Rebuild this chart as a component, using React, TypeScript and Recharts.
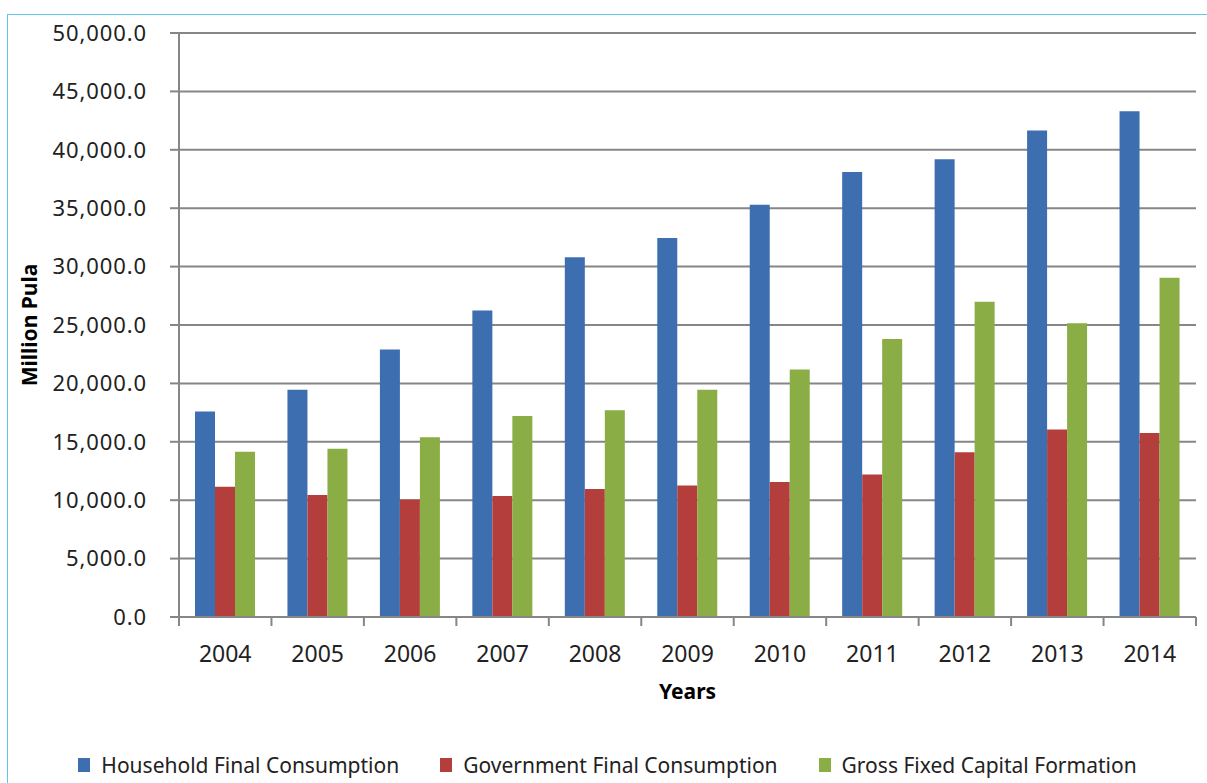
import React from 'react';
import { BarChart, Bar, XAxis, YAxis, CartesianGrid, Legend, Label } from 'recharts';

const years = ['2004', '2005', '2006', '2007', '2008', '2009', '2010', '2011', '2012', '2013', '2014'];
const household = [17600, 19450, 22900, 26250, 30800, 32450, 35300, 38100, 39200, 41650, 43300];
const government = [11150, 10450, 10050, 10350, 10950, 11250, 11550, 12200, 14100, 16050, 15750];
const grossFixed = [14150, 14400, 15400, 17200, 17700, 19450, 21200, 23800, 27000, 25150, 29050];
const seriesNames = ['Household Final Consumption', 'Government Final Consumption', 'Gross Fixed Capital Formation'];
const yTicks = [0, 5000, 10000, 15000, 20000, 25000, 30000, 35000, 40000, 45000, 50000];

const chartData = years.map((year, i) => ({
  year,
  household: household[i],
  government: government[i],
  grossFixed: grossFixed[i],
}));

const FONT = '"Noto Sans", sans-serif';
const AXIS = '#868686';
const PLOT_LEFT = 179;
const PLOT_RIGHT = 1196;
const BAND = (PLOT_RIGHT - PLOT_LEFT) / years.length;

const formatTick = (v: number) =>
  v.toLocaleString('en-US', { minimumFractionDigits: 1, maximumFractionDigits: 1 });

function YearTick(props: any) {
  const { x, y, payload, index } = props;
  const left = x - BAND / 2;
  return (
    <g>
      <line x1={left} y1={y} x2={left} y2={y + 9} stroke={AXIS} strokeWidth={2} />
      {index === years.length - 1 && (
        <line x1={x + BAND / 2} y1={y} x2={x + BAND / 2} y2={y + 9} stroke={AXIS} strokeWidth={2} />
      )}
      <text x={x} y={y + 36} textAnchor="middle" dominantBaseline="central" fontSize={23} fontFamily={FONT} fill="#222">
        {payload.value}
      </text>
    </g>
  );
}

function LegendContent({ payload }: any) {
  const items = [...(payload || [])].sort(
    (a: any, b: any) => seriesNames.indexOf(a.value) - seriesNames.indexOf(b.value)
  );
  return (
    <div style={{ display: 'flex', justifyContent: 'center', alignItems: 'center', height: 36, paddingLeft: 19 }}>
      {items.map((entry: any, i: number) => (
        <div key={i} style={{ display: 'flex', alignItems: 'center', marginRight: i < 2 ? 41 : 0 }}>
          <span style={{ display: 'inline-block', width: 12, height: 14, background: entry.color, marginRight: 11 }} />
          <span style={{ fontFamily: FONT, fontSize: 21, color: '#222' }}>{entry.value}</span>
        </div>
      ))}
    </div>
  );
}

export default function App() {
  return (
    <div style={{ position: 'absolute', left: 0, top: 0, width: 1207, height: 783, background: '#fff', overflow: 'hidden' }}>
      <div
        style={{
          position: 'absolute',
          left: 7,
          top: 14,
          width: 1207,
          height: 783,
          borderLeft: '1.5px solid #5ec6ef',
          borderTop: '1.5px solid #5ec6ef',
        }}
      />
      <div style={{ position: 'absolute', left: 0, top: 0 }}>
        <BarChart
          width={1207}
          height={783}
          data={chartData}
          margin={{ top: 33, right: 11, left: 0, bottom: 0 }}
          barGap={0}
          barSize={20}
        >
          <CartesianGrid vertical={false} stroke={AXIS} strokeWidth={2} />
          <XAxis
            dataKey="year"
            height={130}
            axisLine={{ stroke: AXIS, strokeWidth: 2 }}
            tickLine={false}
            tickSize={0}
            tickMargin={0}
            tick={<YearTick />}
            interval={0}
          >
            <Label
              value="Years"
              position="insideBottom"
              offset={48}
              style={{ fontFamily: FONT, fontSize: 21, fontWeight: 'bold', fill: '#000' }}
            />
          </XAxis>
          <YAxis
            width={179}
            domain={[0, 50000]}
            ticks={yTicks}
            tickFormatter={formatTick}
            axisLine={{ stroke: AXIS, strokeWidth: 2 }}
            tickLine={{ stroke: AXIS, strokeWidth: 2 }}
            tickSize={9}
            tickMargin={23}
            tick={{ fontFamily: FONT, fontSize: 22, fill: '#222', letterSpacing: 0.9 }}
            interval={0}
          >
            <Label
              value="Million Pula"
              angle={-90}
              position="insideLeft"
              offset={30}
              style={{ textAnchor: 'middle', fontFamily: FONT, fontSize: 21, fontWeight: 'bold', fill: '#000' }}
            />
          </YAxis>
          <Legend verticalAlign="bottom" content={<LegendContent />} />
          <Bar dataKey="household" name={seriesNames[0]} fill="#3d6eb0" isAnimationActive={false} />
          <Bar dataKey="government" name={seriesNames[1]} fill="#b43e3c" isAnimationActive={false} />
          <Bar dataKey="grossFixed" name={seriesNames[2]} fill="#8aad45" isAnimationActive={false} />
        </BarChart>
      </div>
    </div>
  );
}
